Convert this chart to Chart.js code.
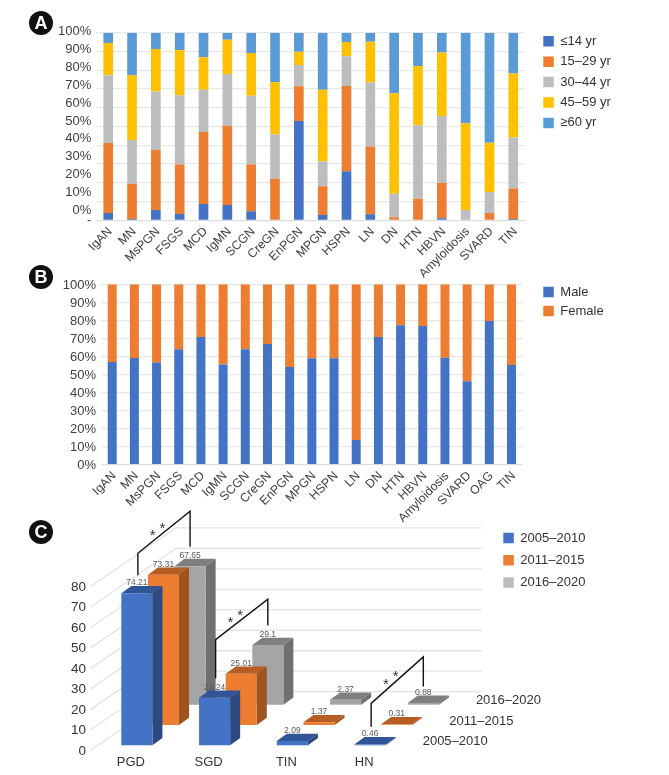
<!DOCTYPE html>
<html><head><meta charset="utf-8">
<script src="https://cdn.jsdelivr.net/npm/chart.js@4"></script>
<style>
html,body{margin:0;padding:0;background:#fff;}
#page{position:relative;width:669px;height:775px;overflow:hidden;}
canvas{position:absolute;left:0;}
.badge{position:absolute;width:24px;height:24px;border-radius:50%;background:#111;color:#fff;font:bold 18px "Liberation Sans",Arial,sans-serif;line-height:24px;text-align:center;z-index:5;}
</style></head><body>
<div id="page">
<canvas id="a" width="669" height="290" style="top:0"></canvas>
<canvas id="b" width="669" height="270" style="top:260px"></canvas>
<canvas id="c" width="669" height="275" style="top:500px"></canvas>
<div class="badge" style="left:29px;top:11px">A</div>
<div class="badge" style="left:29px;top:265px">B</div>
<div class="badge" style="left:29px;top:520px">C</div>
</div>
<script>
const FONT='"Liberation Sans",Arial,sans-serif';
const INK='#404040';
// Panel A
const catsA=['IgAN','MN','MsPGN','FSGS','MCD','IgMN','SCGN','CreGN','EnPGN','MPGN','HSPN','LN','DN','HTN','HBVN','Amyloidosis','SVARD','TIN'];
const ageU14=[3.9,0.7,5.5,3.4,8.7,8.2,4.8,0,52.9,2.8,26.1,3.2,0,0,1.1,0,0,0.7];
const age15=[37.3,18.8,32,26.3,38.4,42.2,25,22.2,18.5,15.3,45.5,36.2,1.6,11.5,18.8,0,3.9,16.2];
const age30=[36.1,23.3,31.1,36.9,22.5,27.6,36.6,23.6,11.4,13.3,15.8,34.1,12.6,39.1,35.7,5.5,11.2,27.3];
const age45=[17.2,34.5,22.7,24.2,17.3,18.3,22.8,27.9,7.1,38.2,7.6,21.7,53.5,31.6,33.9,46.2,26.3,34];
const age60=[5.5,22.7,8.7,9.2,13.1,3.7,10.8,26.3,10.1,30.4,5,4.8,32.3,17.8,10.5,48.3,58.6,21.8];
const namesA=['≤14 yr','15–29 yr','30–44 yr','45–59 yr','≥60 yr'];
// Panel B
const catsB=['IgAN','MN','MsPGN','FSGS','MCD','IgMN','SCGN','CreGN','EnPGN','MPGN','HSPN','LN','DN','HTN','HBVN','Amyloidosis','SVARD','OAG','TIN'];
const male=[56.9,59.2,56.7,64,70.8,55.6,64,66.9,54.2,59,59,13.7,70.8,77.3,76.9,59.3,46.2,79.7,55.3];
const female=[43.1,40.8,43.3,36,29.2,44.4,36,33.1,45.8,41,41,86.3,29.2,22.7,23.1,40.7,53.8,20.3,44.7];
// Panel C
const catsC=['PGD','SGD','TIN','HN'];
const p2005=[74.21,23.24,2.09,0.46];
const p2011=[73.31,25.01,1.37,0.31];
const p2016=[67.65,29.1,2.37,0.88];
const namesC=['2005–2010','2011–2015','2016–2020'];
const ticksPct=[0,10,20,30,40,50,60,70,80,90,100];
const ticksC=[0,10,20,30,40,50,60,70,80];
const BLUE='#4472c4',ORANGE='#ed7d31',GREY='#bdbdbd',GOLD='#ffc000',SKY='#5b9bd5';

const pinLegend={id:'pinLegend',
  beforeLayout(chart,_a,o){const l=chart.legend;
    if(!l._origFit){l._origFit=l.fit;l.fit=function(){l._origFit.call(this);this.width=o.w;};}},
  beforeDraw(chart,_a,o){const l=chart.legend,p=l.options.labels.padding;
    l.left=o.x-p;l.top=o.y-p-6.5;l.bottom=chart.height+400;l.right=chart.width;}
};
function legendOpts(pad){return {position:'right',align:'start',
  labels:{boxWidth:10.5,boxHeight:10.5,padding:pad,color:'#333',font:{family:FONT,size:13}}};}

function pctChart(id,cats,sets,o){
  return new Chart(document.getElementById(id),{type:'bar',
    data:{labels:cats,datasets:sets.map(s=>({label:s[0],data:s[1],backgroundColor:s[2],borderWidth:0,yAxisID:'y',
      barPercentage:0.405,categoryPercentage:1}))},
    plugins:[pinLegend],
    options:{responsive:false,animation:false,devicePixelRatio:1,
      layout:{padding:{top:o.top,left:0,right:0,bottom:0}},
      plugins:{legend:legendOpts(o.pad),tooltip:{enabled:false},pinLegend:{w:o.w,x:543.3,y:o.ly}},
      scales:{
        x:{stacked:true,grid:{display:false,drawTicks:false},border:{color:'#dcdcdc',width:1},
          afterFit(s){s.height=o.xh;},
          ticks:{minRotation:45,maxRotation:45,autoSkip:false,padding:o.xpad,labelOffset:o.xoff,color:INK,font:{family:FONT,size:o.xsize}}},
        y:{stacked:true,min:0,max:100,position:'left',afterFit(s){s.width=0;},
          grid:{color:'#e8e8e8',lineWidth:1.2,drawTicks:false},border:{display:false},ticks:{display:false,stepSize:10}},
        y2:{position:'left',min:o.lmin,max:o.lmax,grid:{display:false,drawTicks:false},border:{display:false},
          afterFit(s){s.width=o.left;},
          afterBuildTicks(s){s.ticks=o.labelTicks.map(v=>({value:v}));},
          ticks:{autoSkip:false,padding:5,color:INK,font:{family:FONT,size:13},
            callback:v=>v<0?'-':v+'%'}}
      }}});
}
pctChart('a',catsA,[[namesA[0],ageU14,BLUE],[namesA[1],age15,ORANGE],[namesA[2],age30,GREY],[namesA[3],age45,GOLD],[namesA[4],age60,SKY]],
  {top:32.7,xh:69.7,w:143.8,left:96.3,pad:7.4,ly:41.3,lmin:-5.6,lmax:99.4,labelTicks:[-5.6].concat(ticksPct),xpad:4,xoff:2,xsize:12.3});
pctChart('b',catsB,[['Male',male,BLUE],['Female',female,ORANGE]],
  {top:24.3,xh:65.3,w:146.4,left:101.1,pad:6,ly:32,lmin:0.6,lmax:100.6,labelTicks:ticksPct,xpad:4,xoff:2,xsize:12.3});

// Panel C : pseudo-3D drawn from the bar elements and scales
const ROW={dx:26.6,dy:20.3};
const DEPTH={dx:10,dy:7.3};
const shades=[{side:'#2b4a82',top:'#2f5597'},{side:'#9c5420',top:'#b55d22'},{side:'#6f6f6f',top:'#7f7f7f'}];
// [category index, rise of left foot, rise of knee, rise of peak, rise of right foot]
const brackets=[[0,18,40,55,19.4],[1,19.4,58,46,19.7],[3,17.6,41,46,16.5]];
const depthPlugin={id:'depth3d',
  beforeDatasetsDraw(chart){
    const c=chart.ctx,y=chart.scales.y;
    c.save();c.strokeStyle='#e3e3e3';c.lineWidth=1.3;
    chart.scales.y2.ticks.forEach(t=>{const p=y.getPixelForValue(t.value);
      c.beginPath();c.moveTo(90.7,p+5);c.lineTo(176,p-53.6);c.lineTo(481.7,p-53.6);c.stroke();});
    c.restore();
  },
  beforeDatasetDraw(chart,{index,meta}){
    const c=chart.ctx,s=shades[index];
    c.save();c.translate(ROW.dx*index,-ROW.dy*index);
    meta.data.forEach(el=>{const {x,y,base,width}=el.getProps(['x','y','base','width'],true);
      const l=x-width/2,r=x+width/2;
      c.fillStyle=s.side;c.beginPath();c.moveTo(r,y);c.lineTo(r+DEPTH.dx,y-DEPTH.dy);c.lineTo(r+DEPTH.dx,base-DEPTH.dy);c.lineTo(r,base);c.closePath();c.fill();
      c.fillStyle=s.top;c.beginPath();c.moveTo(l,y);c.lineTo(l+DEPTH.dx,y-DEPTH.dy);c.lineTo(r+DEPTH.dx,y-DEPTH.dy);c.lineTo(r,y);c.closePath();c.fill();
    });
  },
  afterDatasetDraw(chart,{index,meta}){
    const c=chart.ctx,ds=chart.data.datasets[index];
    c.fillStyle='#595959';c.font='8.5px '+FONT;c.textAlign='center';c.textBaseline='middle';
    meta.data.forEach((el,i)=>{const {x,y}=el.getProps(['x','y'],true);c.fillText(String(ds.data[i]),x,y-10.5);});
    // depth-axis label beside the last bar of the row
    const last=meta.data[meta.data.length-1].getProps(['x','base','width'],true);
    c.fillStyle='#333';c.font='13px '+FONT;c.textAlign='left';
    c.fillText(ds.label,last.x+last.width/2+37,last.base-4);
    c.restore();
  },
  afterDatasetsDraw(chart){
    const c=chart.ctx,m0=chart.getDatasetMeta(0),m2=chart.getDatasetMeta(2);
    c.save();c.strokeStyle='#111';c.lineWidth=1.4;
    brackets.forEach(([i,f1,k,pk,f2])=>{
      const a=m0.data[i].getProps(['x','y'],true),b=m2.data[i].getProps(['x','y'],true);
      const x1=a.x+1,x2=b.x+ROW.dx*2,ya=a.y,yb=b.y-ROW.dy*2;
      c.beginPath();c.moveTo(x1,ya-f1);c.lineTo(x1,ya-k);c.lineTo(x2,yb-pk);c.lineTo(x2,yb-f2);c.stroke();
      c.fillStyle='#333';c.font='15px '+FONT;c.textAlign='center';c.textBaseline='alphabetic';
      [0.285,0.468].forEach(t=>{const sx=x1+(x2-x1)*t,sy=(ya-k)+((yb-pk)-(ya-k))*t;c.fillText('*',sx,sy-1);});
    });
    c.restore();
  }
};
const legendC=legendOpts(9.3);
legendC.labels.generateLabels=chart=>Chart.defaults.plugins.legend.labels.generateLabels(chart).map((it,i)=>{
  if(i===2)it.fillStyle=GREY;return it;});
new Chart(document.getElementById('c'),{type:'bar',
  data:{labels:catsC,datasets:[[namesC[0],p2005,BLUE],[namesC[1],p2011,ORANGE],[namesC[2],p2016,'#a5a5a5']].map(s=>({
    label:s[0],data:s[1],backgroundColor:s[2],borderWidth:0,clip:false,grouped:false,barPercentage:0.4,categoryPercentage:1}))},
  plugins:[pinLegend,depthPlugin],
  options:{responsive:false,animation:false,devicePixelRatio:1,
    layout:{padding:{top:40.5,left:0,right:0,bottom:0}},
    plugins:{legend:legendC,tooltip:{enabled:false},pinLegend:{w:260,x:503.3,y:38}},
    scales:{
      x:{grid:{display:false,drawTicks:false},border:{display:false},afterFit(s){s.height=29.7;},
        ticks:{padding:9,labelOffset:-6,color:'#333',font:{family:FONT,size:13},maxRotation:0}},
      y:{min:0,max:100,position:'left',afterFit(s){s.width=0;},grid:{display:false,drawTicks:false},border:{display:false},ticks:{display:false}},
      y2:{position:'left',min:2.69,max:102.69,grid:{display:false,drawTicks:false},border:{display:false},afterFit(s){s.width=98;},
        afterBuildTicks(s){s.ticks=ticksC.map(v=>({value:v}));},
        ticks:{autoSkip:false,padding:12,color:'#333',font:{family:FONT,size:13.5}}}
    }}});
</script>
</body></html>
